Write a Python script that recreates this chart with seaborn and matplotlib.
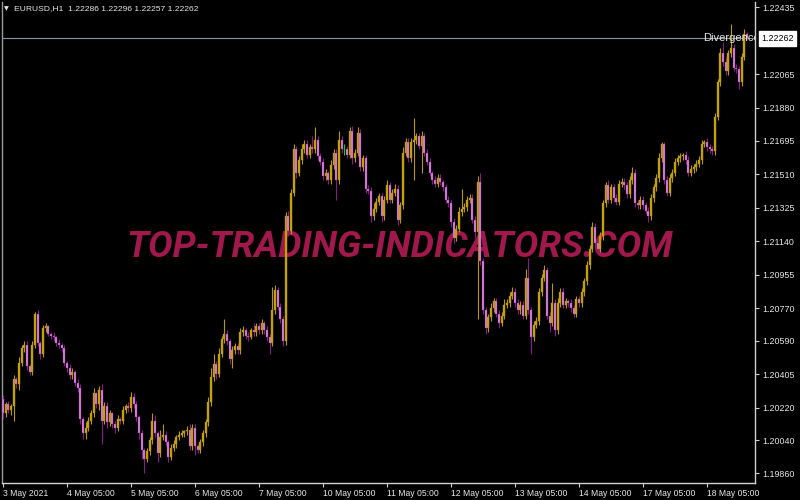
import numpy as np
import pandas as pd
import matplotlib
matplotlib.use("Agg")
import matplotlib.pyplot as plt
import seaborn as sns

# ---------------- data ----------------
SYMBOL = "EURUSD,H1"
HEADER_OHLC = ["1.22286", "1.22296", "1.22257", "1.22262"]
FIRST_OPEN = 1.2027
CURRENT_PRICE = 1.22262

CLOSES = [
    1.2019, 1.2024, 1.2021, 1.2023, 1.2038, 1.2035, 1.2047, 1.2055, 1.2057, 1.2045,
    1.2042, 1.2057, 1.2074, 1.2058, 1.2052, 1.2066, 1.2067, 1.2063, 1.2062, 1.2061,
    1.2058, 1.2057, 1.2055, 1.2047, 1.2044, 1.2040, 1.2042, 1.2036, 1.2033, 1.2016,
    1.2008, 1.2011, 1.2015, 1.2019, 1.2030, 1.2024, 1.2032, 1.2015, 1.2023, 1.2014,
    1.2019, 1.2013, 1.2011, 1.2016, 1.2015, 1.2021, 1.2023, 1.2022, 1.2028, 1.2024,
    1.2017, 1.2008, 1.1999, 1.1994, 1.1998, 1.2004, 1.2015, 1.2008, 1.1997, 1.2006,
    1.2007, 1.2003, 1.1995, 1.2000, 1.2002, 1.2006, 1.2007, 1.2008, 1.2009, 1.2010,
    1.2001, 1.2011, 1.2001, 1.1999, 1.2003, 1.2008, 1.2014, 1.2025, 1.2039, 1.2046,
    1.2041, 1.2052, 1.2060, 1.2063, 1.2059, 1.2049, 1.2054, 1.2056, 1.2054, 1.2064,
    1.2065, 1.2062, 1.2061, 1.2065, 1.2064, 1.2067, 1.2065, 1.2069, 1.2065, 1.2061,
    1.2058, 1.2076, 1.2087, 1.2078, 1.2071, 1.2059, 1.2128, 1.2120, 1.2141, 1.2165,
    1.2152, 1.2159, 1.2165, 1.2168, 1.2162, 1.2166, 1.2165, 1.2170, 1.2161, 1.2158,
    1.2150, 1.2152, 1.2148, 1.2156, 1.2163, 1.2148, 1.2170, 1.2165, 1.2165, 1.2162,
    1.2175, 1.2160, 1.2163, 1.2174, 1.2155, 1.2160, 1.2143, 1.2142, 1.2128, 1.2132,
    1.2136, 1.2139, 1.2128, 1.2137, 1.2145, 1.2137, 1.2141, 1.2143, 1.2126, 1.2134,
    1.2163, 1.2169, 1.2160, 1.2169, 1.2170, 1.2172, 1.2167, 1.2172, 1.2163, 1.2158,
    1.2152, 1.2148, 1.2146, 1.2149, 1.2147, 1.2144, 1.2137, 1.2135, 1.2125, 1.2116,
    1.2121, 1.2130, 1.2132, 1.2133, 1.2137, 1.2138, 1.2126, 1.2119, 1.2147, 1.2103,
    1.2076, 1.2066, 1.2072, 1.2077, 1.2081, 1.2074, 1.2069, 1.2073, 1.2079, 1.2080,
    1.2084, 1.2086, 1.2080, 1.2076, 1.2079, 1.2073, 1.2094, 1.2076, 1.2061, 1.2068,
    1.2070, 1.2086, 1.2094, 1.2098, 1.2073, 1.2069, 1.2080, 1.2065, 1.2080, 1.2086,
    1.2079, 1.2081, 1.2080, 1.2077, 1.2074, 1.2082, 1.2080, 1.2086, 1.2092, 1.2101,
    1.2110, 1.2122, 1.2113, 1.2110, 1.2117, 1.2135, 1.2145, 1.2137, 1.2144, 1.2138,
    1.2136, 1.2146, 1.2147, 1.2145, 1.2140, 1.2148, 1.2152, 1.2135, 1.2134, 1.2137,
    1.2134, 1.2131, 1.2128, 1.2138, 1.2144, 1.2149, 1.2160, 1.2168, 1.2148, 1.2141,
    1.2149, 1.2152, 1.2158, 1.2160, 1.2161, 1.2162, 1.2159, 1.2152, 1.2154, 1.2155,
    1.2157, 1.2159, 1.2168, 1.2169, 1.2166, 1.2165, 1.2164, 1.2183, 1.2202, 1.2218,
    1.2213, 1.2208, 1.2218, 1.2221, 1.2210, 1.2209, 1.2202, 1.2216, 1.22286, 1.22262,
]

# wick lengths beyond the body, in pips
UP_WICK = [
    2, 1, 2, 1, 2, 1, 3, 2, 2, 2, 1, 2, 1, 2, 1, 2, 2, 1, 1, 2,
    1, 2, 1, 2, 1, 2, 2, 1, 2, 2, 1, 3, 2, 2, 3, 1, 2, 3, 2, 2,
    2, 1, 2, 2, 1, 2, 1, 2, 3, 2, 2, 1, 2, 1, 2, 2, 4, 3, 1, 4,
    6, 2, 1, 2, 2, 1, 2, 2, 1, 2, 3, 2, 2, 1, 2, 2, 2, 3, 5, 6,
    2, 3, 2, 8, 2, 1, 2, 2, 2, 2, 2, 1, 2, 1, 4, 2, 2, 2, 1, 2,
    2, 13, 3, 2, 2, 2, 2, 3, 2, 3, 2, 2, 3, 2, 2, 2, 6, 7, 2, 2,
    2, 2, 1, 3, 2, 2, 5, 2, 3, 2, 2, 3, 2, 3, 2, 2, 2, 2, 2, 3,
    2, 2, 2, 2, 3, 2, 2, 3, 2, 2, 3, 2, 2, 2, 12, 2, 2, 3, 2, 2,
    2, 1, 2, 2, 2, 1, 2, 2, 2, 2, 2, 3, 11, 2, 2, 2, 2, 2, 3, 5,
    2, 2, 2, 3, 2, 2, 2, 2, 3, 2, 2, 3, 2, 2, 2, 2, 5, 11, 2, 2,
    2, 2, 2, 3, 2, 2, 11, 2, 3, 2, 2, 2, 1, 2, 2, 2, 2, 2, 2, 2,
    2, 3, 2, 2, 2, 2, 2, 3, 2, 2, 2, 2, 2, 2, 2, 2, 3, 2, 2, 2,
    2, 2, 2, 2, 2, 2, 3, 1, 1, 2, 2, 2, 2, 2, 2, 1, 2, 2, 2, 2,
    2, 2, 2, 1, 2, 2, 2, 2, 2, 3, 6, 3, 2, 13, 2, 2, 2, 2, 3, 1,
]
LO_WICK = [
    3, 2, 2, 3, 8, 2, 3, 2, 2, 2, 2, 2, 2, 2, 3, 2, 2, 1, 2, 2,
    2, 2, 2, 2, 2, 2, 2, 2, 2, 3, 3, 3, 2, 2, 2, 2, 3, 13, 2, 3,
    2, 2, 3, 2, 2, 2, 2, 2, 2, 2, 2, 3, 5, 8, 2, 2, 2, 2, 5, 2,
    2, 2, 3, 2, 2, 2, 2, 1, 2, 2, 2, 2, 5, 2, 2, 2, 2, 2, 2, 2,
    3, 2, 2, 2, 2, 3, 5, 2, 2, 2, 2, 2, 2, 1, 2, 2, 2, 2, 2, 2,
    6, 2, 2, 2, 2, 3, 2, 3, 2, 2, 3, 2, 2, 2, 2, 2, 2, 2, 2, 2,
    2, 2, 2, 2, 2, 11, 2, 2, 3, 2, 2, 3, 2, 2, 2, 2, 2, 2, 3, 2,
    2, 2, 3, 2, 2, 2, 2, 2, 3, 2, 2, 2, 2, 2, 21, 2, 2, 15, 2, 2,
    2, 2, 2, 2, 2, 2, 2, 2, 3, 3, 2, 2, 2, 2, 2, 2, 2, 3, 48, 2,
    2, 3, 2, 2, 2, 2, 3, 2, 2, 2, 2, 2, 2, 2, 2, 2, 2, 2, 9, 2,
    2, 2, 2, 2, 2, 5, 2, 3, 2, 2, 2, 2, 2, 2, 2, 2, 2, 2, 2, 2,
    2, 2, 2, 2, 2, 2, 2, 2, 2, 2, 2, 2, 2, 2, 2, 2, 2, 2, 2, 2,
    2, 2, 3, 2, 2, 2, 2, 2, 2, 2, 2, 2, 2, 2, 2, 2, 2, 2, 2, 2,
    2, 2, 2, 2, 2, 2, 2, 2, 2, 2, 2, 2, 2, 2, 2, 2, 4, 2, 2, 0.5,
]

Y_TICKS = [1.22435, 1.22065, 1.21880, 1.21695, 1.21510, 1.21325, 1.21140,
           1.20955, 1.20770, 1.20590, 1.20405, 1.20220, 1.20040, 1.19860]
X_TICK_BARS = [0, 24, 48, 72, 96, 120, 144, 168, 192, 216, 240, 264]
X_TICK_LABELS = ["3 May 2021", "4 May 05:00", "5 May 05:00", "6 May 05:00",
                 "7 May 05:00", "10 May 05:00", "11 May 05:00", "12 May 05:00",
                 "13 May 05:00", "14 May 05:00", "17 May 05:00", "18 May 05:00"]
WATERMARK = "TOP-TRADING-INDICATORS.COM"
INDICATOR_LABEL = "Divergence"

# ---------------- styling ----------------
sns.set_style("dark", {"axes.facecolor": "black", "figure.facecolor": "black",
                       "axes.edgecolor": "#c8c8c8", "grid.color": "black"})
plt.rcParams["font.family"] = ["Liberation Sans", "DejaVu Sans"]

UP_BODY = "#c9a400"
UP_WICK_C = "#b89a00"
DN_BODY = "#dc8ee2"
DN_WICK_C = "#8a1a8a"
DOJI_C = "#00e000"
TXT = "#e6e6e6"

PIP = 0.0001
df = pd.DataFrame({"close": CLOSES})
df["open"] = [FIRST_OPEN] + CLOSES[:-1]
df["bar"] = np.arange(len(df))
top = df[["open", "close"]].max(axis=1)
bot = df[["open", "close"]].min(axis=1)
df["high"] = top + np.array(UP_WICK) * PIP
df["low"] = bot - np.array(LO_WICK) * PIP
df["dir"] = np.where(df["close"] > df["open"] + 1e-9, "up",
                     np.where(df["close"] < df["open"] - 1e-9, "down", "doji"))

body_col = df["dir"].map({"up": UP_BODY, "down": DN_BODY, "doji": DOJI_C})
wick_col = df["dir"].map({"up": UP_WICK_C, "down": DN_WICK_C, "doji": DOJI_C})

fig = plt.figure(figsize=(8, 5), dpi=100, facecolor="black")
ax = fig.add_axes([2 / 800, 17 / 500, 753 / 800, 481 / 500])
ax.set_facecolor("black")

# watermark (behind candles)
ax.text(0.5286, 0.49, WATERMARK, transform=ax.transAxes, ha="center", va="center",
        fontsize=26.5, fontweight="bold", fontstyle="italic", color="#a0184c",
        family=["Roboto", "DejaVu Sans"], zorder=1)

# current price line
ax.axhline(CURRENT_PRICE, color="#8595a5", lw=0.8, zorder=2)

# candles
ax.vlines(df["bar"], df["low"], df["high"], colors=wick_col, lw=0.8, zorder=3)
heights = np.maximum(top - bot, 0.000025)
ax.bar(df["bar"], heights, bottom=bot, width=0.75, color=body_col,
       edgecolor=wick_col, linewidth=0.25, zorder=4)

ax.text(0.9309, CURRENT_PRICE, INDICATOR_LABEL,
        transform=matplotlib.transforms.blended_transform_factory(ax.transAxes, ax.transData),
        ha="left", va="center", fontsize=8, color=TXT, zorder=6, clip_on=True)

ax.set_xlim(-0.375, 282.0)
ax.set_ylim(1.19805, 1.22463)

# axes frame
ax.spines["top"].set_visible(False)
ax.spines["left"].set_color("#9a9a9a")
ax.spines["right"].set_color("#d0d0d0")
ax.spines["bottom"].set_color("#d0d0d0")
for s in ["left", "right", "bottom"]:
    ax.spines[s].set_linewidth(1.0)
ax.grid(False)

ax.yaxis.tick_right()
ax.set_yticks(Y_TICKS)
ax.set_yticklabels([f"{v:.5f}" for v in Y_TICKS])
ax.tick_params(axis="y", right=True, left=False, length=3, width=0.8, color="#d0d0d0",
               labelcolor=TXT, labelsize=6.4, pad=2)
ax.set_xticks(X_TICK_BARS)
ax.set_xticklabels(X_TICK_LABELS)
ax.tick_params(axis="x", bottom=True, length=3, width=0.8, color="#d0d0d0",
               labelcolor=TXT, labelsize=6.2, pad=1.5)
for lab in ax.get_xticklabels():
    lab.set_ha("left")

# price box on the axis
ax.annotate(f"{CURRENT_PRICE:.5f}", xy=(1.0, CURRENT_PRICE),
            xycoords=("axes fraction", "data"), xytext=(4.5, 0), textcoords="offset points",
            ha="left", va="center", fontsize=6.4, color="black",
            bbox=dict(boxstyle="square,pad=0.3", fc="white", ec="white"),
            annotation_clip=False, zorder=7)

# header
fig.text(4 / 800, 1 - 8.5 / 500, "▼", fontsize=4.5, color=TXT, va="center",
         family=["DejaVu Sans"])
fig.text(14 / 800, 1 - 8.5 / 500, f"{SYMBOL}  " + " ".join(HEADER_OHLC),
         fontsize=6.1, color=TXT, va="center", ha="left")

fig.savefig("out.png", dpi=100, facecolor="black")
